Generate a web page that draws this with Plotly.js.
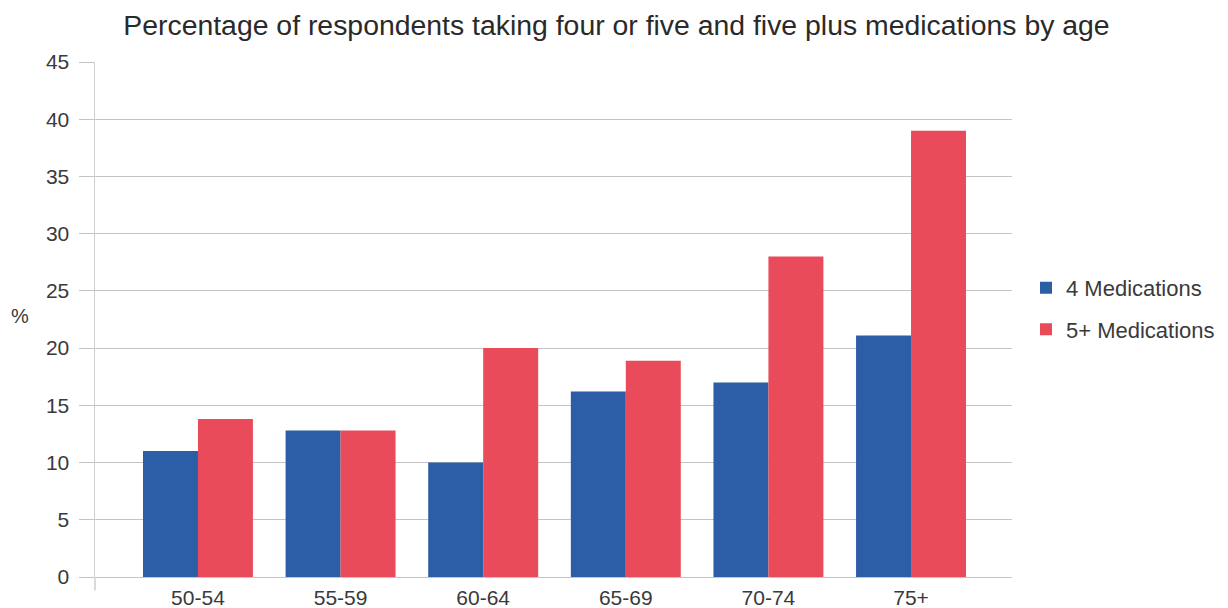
<!DOCTYPE html>
<html>
<head>
<meta charset="utf-8">
<script src="https://cdn.plot.ly/plotly-3.0.1.min.js"></script>
<style>html,body{margin:0;padding:0;background:#fff;}#chart{width:1228px;height:608px;}</style>
</head>
<body>
<div id="chart"></div>
<script>
// Age bands and share of respondents (%) on each medication count
const ageGroups = ["50-54", "55-59", "60-64", "65-69", "70-74", "75+"];
const fourMeds = [11, 12.8, 10, 16.2, 17, 21.1];
const fivePlusMeds = [13.8, 12.8, 20, 18.9, 28, 39];
const yTicks = [0, 5, 10, 15, 20, 25, 30, 35, 40, 45];

const FONT = "Liberation Sans, Arial, sans-serif";
const TEXT = "#3a3a3a";

const traces = [
  {type: "bar", name: "4 Medications", x: ageGroups, y: fourMeds, legendgroup: "a",
   marker: {color: "#2B5EA7"}, hoverinfo: "x+y+name"},
  {type: "bar", name: "5+ Medications", x: ageGroups, y: fivePlusMeds, legendgroup: "b",
   marker: {color: "#E94B5A"}, hoverinfo: "x+y+name"}
];

const layout = {
  width: 1228, height: 608,
  margin: {l: 95, r: 216, t: 62, b: 31},
  paper_bgcolor: "#fff", plot_bgcolor: "#fff",
  barmode: "group", bargap: 0.229, bargroupgap: 0,
  font: {family: FONT, color: TEXT, size: 20},
  title: {text: "Percentage of respondents taking four or five and five plus medications by age",
          x: 0.502, xref: "container", xanchor: "center", y: 0.958, yanchor: "middle",
          font: {family: FONT, size: 28.4, color: "#2a2a2a"}},
  xaxis: {range: [-0.722, 5.708], showgrid: false, showline: false, ticks: "",
          ticklabelstandoff: 6,
          tickfont: {size: 21, color: TEXT}, fixedrange: true},
  yaxis: {range: [0, 45], tickvals: yTicks, ticktext: yTicks.map(String),
          showgrid: true, gridcolor: "#c4c4c4", gridwidth: 1,
          zeroline: true, zerolinecolor: "#c4c4c4", zerolinewidth: 1,
          showline: true, linecolor: "#cfcfcf", linewidth: 1.5,
          ticks: "outside", ticklen: 15, tickcolor: "#c4c4c4", tickwidth: 1,
          ticklabelstandoff: 5,
          tickfont: {size: 21, color: TEXT}, fixedrange: true},
  legend: {xref: "container", yref: "container", x: 0.8355, xanchor: "left",
           y: 0.492, yanchor: "middle",
           font: {size: 22, color: TEXT}, traceorder: "grouped", tracegroupgap: 10,
           itemsizing: "constant", bgcolor: "rgba(0,0,0,0)"},
  shapes: [
    // short extension of the value axis below the zero line
    {type: "line", xref: "paper", yref: "paper", x0: 0, x1: 0, y0: 0, y1: -0.026,
     line: {color: "#cfcfcf", width: 1.5}}
  ],
  annotations: [
    {text: "%", xref: "paper", yref: "paper", x: -0.082, y: 0.507, xanchor: "center",
     yanchor: "middle", showarrow: false, font: {size: 20, color: TEXT}}
  ]
};

Plotly.newPlot("chart", traces, layout, {displayModeBar: false, staticPlot: true});
</script>
</body>
</html>
